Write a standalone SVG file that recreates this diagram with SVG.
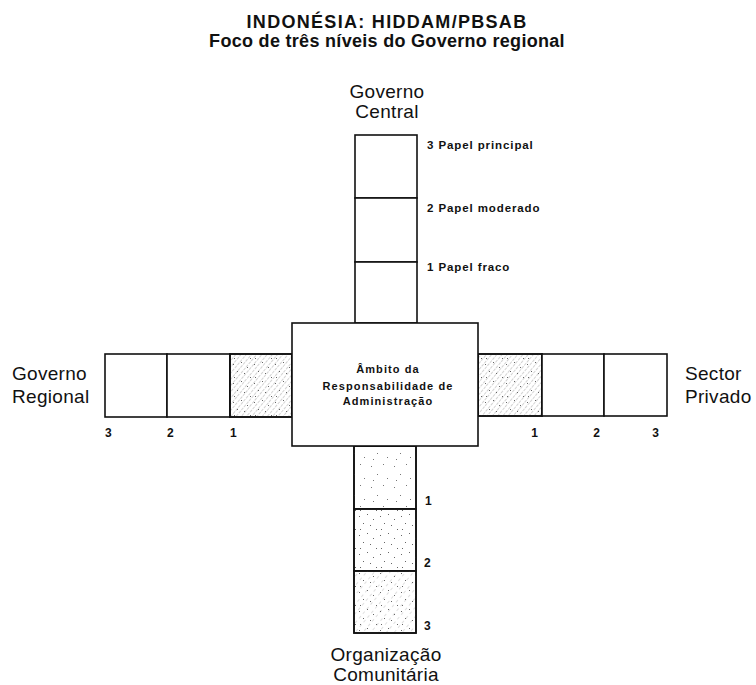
<svg xmlns="http://www.w3.org/2000/svg" width="756" height="685" viewBox="0 0 756 685">
  <style>
    .cell { fill: #fff; stroke: #111; stroke-width: 1.6; }
    .box { fill: #fff; stroke: #111; stroke-width: 1.6; }
    .edge { fill: none; stroke: #111; stroke-width: 1.6; }
    .title { font-family: "Liberation Sans", Arial, sans-serif; font-weight: bold; font-size: 18px; fill: #111; text-anchor: middle; }
    .big { font-family: "Liberation Sans", Arial, sans-serif; font-size: 19px; fill: #111; letter-spacing: 0.3px; }
    .small { font-family: "Liberation Sans", Arial, sans-serif; font-weight: bold; font-size: 11.5px; fill: #111; letter-spacing: 0.9px; }
    .num { font-family: "Liberation Sans", Arial, sans-serif; font-weight: bold; font-size: 12px; fill: #111; }
    .centre { font-family: "Liberation Sans", Arial, sans-serif; font-weight: bold; font-size: 11px; fill: #111; text-anchor: middle; letter-spacing: 1.1px; }
  </style>
  <defs>
    <!-- scattered stipple -->
    <pattern id="dots" width="21" height="19" patternUnits="userSpaceOnUse">
      <g fill="#666">
        <rect x="2" y="3" width="1" height="1"/>
        <rect x="10" y="1" width="1" height="1"/>
        <rect x="16" y="6" width="1" height="1"/>
        <rect x="6" y="10" width="1" height="1"/>
        <rect x="13" y="12" width="1" height="1"/>
        <rect x="19" y="16" width="1" height="1"/>
        <rect x="3" y="16" width="1" height="1"/>
      </g>
    </pattern>
    <pattern id="dotsLight" width="23" height="21" patternUnits="userSpaceOnUse">
      <g fill="#777">
        <rect x="3" y="4" width="1" height="1"/>
        <rect x="15" y="2" width="1" height="1"/>
        <rect x="9" y="12" width="1" height="1"/>
        <rect x="19" y="16" width="1" height="1"/>
        <rect x="5" y="18" width="1" height="1"/>
      </g>
    </pattern>
    <!-- broken diagonal hatching -->
    <pattern id="hatch" width="4" height="4" patternUnits="userSpaceOnUse" patternTransform="rotate(40)">
      <line x1="0" y1="0" x2="0" y2="4" stroke="#555" stroke-width="0.8" stroke-dasharray="3 2"/>
    </pattern>
    <pattern id="hatchSparse" width="6" height="6" patternUnits="userSpaceOnUse" patternTransform="rotate(40)">
      <line x1="0" y1="0" x2="0" y2="6" stroke="#666" stroke-width="0.7" stroke-dasharray="3 5"/>
    </pattern>
  </defs>

  <!-- heading -->
  <g id="title">
    <text class="title" x="387" y="28" style="letter-spacing:1.3px">INDONÉSIA: HIDDAM/PBSAB</text>
    <text class="title" x="387" y="47" style="letter-spacing:0.3px">Foco de três níveis do Governo regional</text>
  </g>

  <!-- upper arm: central government -->
  <g id="governo-central">
    <rect class="cell" x="355" y="135" width="62" height="63"/>
    <rect class="cell" x="355" y="198" width="62" height="64"/>
    <rect class="cell" x="355" y="262" width="62" height="61"/>
    <text class="big" x="387" y="98" text-anchor="middle">Governo</text>
    <text class="big" x="387" y="118" text-anchor="middle">Central</text>
    <text class="small" x="427" y="149">3 Papel principal</text>
    <text class="small" x="427" y="212">2 Papel moderado</text>
    <text class="small" x="427" y="271">1 Papel fraco</text>
  </g>

  <!-- left arm: regional government -->
  <g id="governo-regional">
    <rect class="cell" x="105" y="354" width="62" height="63"/>
    <rect class="cell" x="167" y="354" width="63" height="63"/>
    <rect class="cell" x="230" y="354" width="62" height="63"/>
    <rect x="230" y="354" width="62" height="63" fill="url(#dots)"/>
    <rect x="230" y="354" width="62" height="63" fill="url(#hatch)" opacity="0.65"/>
    <rect class="edge" x="230" y="354" width="62" height="63"/>
    <text class="big" x="12" y="380">Governo</text>
    <text class="big" x="12" y="403">Regional</text>
    <text class="num" x="105" y="437">3</text>
    <text class="num" x="167" y="437">2</text>
    <text class="num" x="230" y="437">1</text>
  </g>

  <!-- right arm: private sector -->
  <g id="sector-privado">
    <rect class="cell" x="478" y="354" width="64" height="62"/>
    <rect x="478" y="354" width="64" height="62" fill="url(#dots)"/>
    <rect x="478" y="354" width="64" height="62" fill="url(#hatch)" opacity="0.65"/>
    <rect class="edge" x="478" y="354" width="64" height="62"/>
    <rect class="cell" x="542" y="354" width="62" height="62"/>
    <rect class="cell" x="604" y="354" width="63" height="62"/>
    <text class="big" x="685" y="380">Sector</text>
    <text class="big" x="685" y="403">Privado</text>
    <text class="num" x="538" y="437" text-anchor="end">1</text>
    <text class="num" x="600" y="437" text-anchor="end">2</text>
    <text class="num" x="659" y="437" text-anchor="end">3</text>
  </g>

  <!-- lower arm: community organisation -->
  <g id="organizacao-comunitaria">
    <rect class="cell" x="354" y="446" width="62" height="63"/>
    <rect x="354" y="446" width="62" height="63" fill="url(#dotsLight)"/>
    <rect class="cell" x="354" y="509" width="62" height="62"/>
    <rect x="354" y="509" width="62" height="62" fill="url(#dots)"/>
    <rect class="cell" x="354" y="571" width="62" height="62"/>
    <rect x="354" y="571" width="62" height="62" fill="url(#dots)"/>
    <rect x="354" y="571" width="62" height="62" fill="url(#hatchSparse)" opacity="0.6"/>
    <rect class="edge" x="354" y="446" width="62" height="187"/>
    <line class="edge" x1="354" y1="509" x2="416" y2="509"/>
    <line class="edge" x1="354" y1="571" x2="416" y2="571"/>
    <text class="num" x="425" y="505">1</text>
    <text class="num" x="424" y="567">2</text>
    <text class="num" x="424" y="630">3</text>
    <text class="big" x="386" y="661" text-anchor="middle">Organização</text>
    <text class="big" x="386" y="681" text-anchor="middle">Comunitária</text>
  </g>

  <!-- central box -->
  <g id="ambito">
    <rect class="box" x="292" y="323" width="186" height="123"/>
    <text class="centre" x="388" y="373">Âmbito da</text>
    <text class="centre" x="388" y="390">Responsabilidade de</text>
    <text class="centre" x="388" y="405">Administração</text>
  </g>

  <g id="connectors"/>
</svg>
